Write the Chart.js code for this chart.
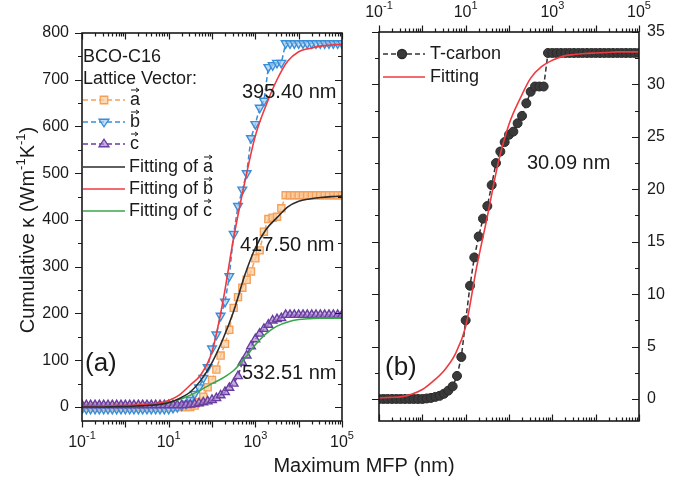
<!DOCTYPE html>
<html>
<head>
<meta charset="utf-8">
<script src="https://cdn.jsdelivr.net/npm/chart.js@4.4.1/dist/chart.umd.min.js"></script>
<style>
  html, body { margin: 0; padding: 0; background: #fff; }
  #wrap { position: relative; width: 696px; height: 485px; }
  canvas { position: absolute; left: 0; top: 0; }
</style>
</head>
<body>
<div id="wrap">
  <canvas id="chartA" width="696" height="485"></canvas>
  <canvas id="chartB" width="696" height="485"></canvas>
</div>
<script>
// ---- data ----
const mfp = [
  0.1, 0.126, 0.158, 0.2, 0.251, 0.316, 0.398, 0.501, 0.631, 0.794,
  1, 1.26, 1.58, 2, 2.51, 3.16, 3.98, 5.01, 6.31, 7.94,
  10, 12.6, 15.8, 20, 25.1, 31.6, 39.8, 50.1, 63.1, 79.4,
  100, 126, 158, 200, 251, 316, 398, 501, 631, 794,
  1000, 1260, 1580, 2000, 2510, 3160, 3980, 5010, 6310, 7940,
  10000, 12600, 15800, 20000, 25100, 31600, 39800, 50100, 63100, 79400,
  100000
];

// BCO-C16, lattice vector a
const kappaA = [
  0, 0, 0, 0, 0, 0, 0, 0, 0, 0,
  0, 0, 0, 0, 0, 0, 0, 0, 0, 0,
  0, 0, 0, 0, 0, 0, 3, 10, 22, 42,
  58, 80, 110, 135, 165, 212, 235, 255, 272, 290,
  318, 335, 375, 402, 405, 407, 425, 453, 453, 453,
  453, 453, 453, 453, 453, 453, 453, 453, 453, 453,
  453
];
// lattice vector b
const kappaB = [
  -4, -4, -4, -4, -4, -4, -4, -4, -4, -4,
  -4, -4, -4, -4, -4, -4, -4, -4, -4, -4,
  -4, -2, 0, 3, 7, 15, 28, 42, 62, 85,
  125, 155, 195, 225, 280, 370, 430, 465, 500, 575,
  605, 640, 655, 727, 731, 736, 736, 778, 778, 778,
  778, 778, 778, 778, 778, 778, 778, 778, 778, 778,
  778
];
// lattice vector c
const kappaC = [
  4, 4, 4, 4, 4, 4, 4, 4, 4, 4,
  4, 4, 4, 4, 4, 4, 4, 4, 4, 4,
  4, 4, 4, 4, 4, 5, 6, 8, 10, 12,
  15, 19, 25, 32, 41, 50, 66, 95, 110, 130,
  145, 157, 167, 176, 185, 188, 190, 197, 197, 197,
  197, 197, 197, 197, 197, 197, 197, 197, 197, 197,
  197
];
// T-carbon
const kappaT = [
  0, 0, 0, 0, 0, 0, 0, 0, 0, 0,
  0, 0.05, 0.1, 0.2, 0.3, 0.5, 0.8, 1.2, 2.2, 4.0,
  7.5, 10.8, 13.5, 15.5, 17.2, 18.4, 20.4, 22.5, 23.6, 24.5,
  25.2, 25.5, 26.3, 27.0, 28.2, 29.3, 29.8, 29.8, 29.8, 33.0,
  33.0, 33.0, 33.0, 33.0, 33.0, 33.0, 33.0, 33.0, 33.0, 33.0,
  33.0, 33.0, 33.0, 33.0, 33.0, 33.0, 33.0, 33.0, 33.0, 33.0,
  33.0
];

// fitting curves, sampled from the figure
const mfpFit = [
  0.1, 0.178, 0.316, 0.562, 1, 1.78, 3.16, 5.62, 10, 17.8, 31.6, 56.2,
  100, 178, 316, 562, 1000, 1780, 3160, 5620, 10000, 17800, 31600, 56200, 100000
];
const fitA = [0, 0, 0, 0.5, 1, 2, 3, 5, 9, 18, 32, 58, 95, 145, 205, 280, 340, 380, 405, 428, 440, 445, 448, 450, 451];
const fitB = [2, 2, 2, 3, 3, 4, 6, 8, 14, 26, 47, 70, 118, 225, 362, 478, 580, 646, 700, 740, 760, 767, 772, 774, 776];
const fitC = [0, 0, 1, 1, 2, 3, 5, 7, 10, 16, 25, 37, 50, 62, 78, 103, 133, 157, 173, 182, 187, 189, 190, 190, 190];
const fitT = [0.1, 0.15, 0.2, 0.45, 0.9, 1.7, 2.7, 4.2, 6.9, 12.5, 17.4, 22.5, 26.2, 28.6, 30.6, 31.7, 32.3, 32.7, 32.85, 32.95, 33.0, 33.05, 33.1, 33.1, 33.1];

// tick labels
const xLabelExps = [-1, 1, 3, 5];
const yTicksA = [0, 100, 200, 300, 400, 500, 600, 700, 800];
const yTicksB = [0, 5, 10, 15, 20, 25, 30, 35];

// ---- styling ----
const FONT = "'Liberation Sans', Arial, sans-serif";
const INK = '#1a1a1a';
const ORANGE = '#f5a05a', BLUE = '#3a8ed8', PURPLE = '#6a3ea0';
const BLACK_FIT = '#2b2b2b', RED_FIT = '#ee3a40', GREEN_FIT = '#3aa64a';
const DOT = '#3a3a3a';
const ORANGE_FILL = 'rgba(250,205,160,0.75)';
const BLUE_FILL = 'rgba(170,205,240,0.7)';
const PURPLE_FILL = 'rgba(170,140,210,0.7)';

const font = px => px + 'px ' + FONT;
const pts = (xs, ys) => xs.map((x, i) => ({ x: x, y: ys[i] }));

function fitLine(ys, color) {
  return {
    data: pts(mfpFit, ys), showLine: true, borderColor: color, borderWidth: 1.6,
    pointRadius: 0, cubicInterpolationMode: 'monotone'
  };
}
function dataLine(ys, color, style, rot, fill) {
  return {
    data: pts(mfp, ys), showLine: true, borderColor: color, borderWidth: 1.5,
    borderDash: [5, 3], pointStyle: style, pointRotation: rot, pointRadius: 5,
    pointBorderColor: color, pointBackgroundColor: fill, pointBorderWidth: 1.4
  };
}

function powLabel(ctx, exp, cx, baseY) {
  const sup = String(exp);
  ctx.font = font(16); const wb = ctx.measureText('10').width;
  ctx.font = font(11); const ws = ctx.measureText(sup).width;
  const x0 = cx - (wb + ws) / 2;
  ctx.textAlign = 'left'; ctx.textBaseline = 'alphabetic';
  ctx.font = font(16); ctx.fillText('10', x0, baseY);
  ctx.font = font(11); ctx.fillText(sup, x0 + wb, baseY - 8);
}

// text made of plain and superscript parts, centred on cx
function richText(ctx, parts, cx, baseY, size) {
  const supSize = Math.round(size * 0.65);
  let total = 0;
  parts.forEach(p => { ctx.font = font(p[1] ? supSize : size); total += ctx.measureText(p[0]).width; });
  let x = cx - total / 2;
  ctx.textAlign = 'left'; ctx.textBaseline = 'alphabetic';
  parts.forEach(p => {
    ctx.font = font(p[1] ? supSize : size);
    ctx.fillText(p[0], x, p[1] ? baseY - size * 0.45 : baseY);
    x += ctx.measureText(p[0]).width;
  });
}

// letter with a vector arrow over it
function vecLetter(ctx, ch, x, yMid) {
  ctx.textAlign = 'left'; ctx.textBaseline = 'middle';
  ctx.fillText(ch, x, yMid);
  const w = ctx.measureText(ch).width;
  const ya = yMid - 10, x1 = x + 1, x2 = x + w - 1;
  ctx.save();
  ctx.lineWidth = 1; ctx.strokeStyle = INK;
  ctx.beginPath();
  ctx.moveTo(x1, ya); ctx.lineTo(x2, ya);
  ctx.moveTo(x2 - 3, ya - 2); ctx.lineTo(x2, ya); ctx.lineTo(x2 - 3, ya + 2);
  ctx.stroke();
  ctx.restore();
  return w;
}

function marker(ctx, style, x, y, color, fill) {
  ctx.save();
  ctx.strokeStyle = color; ctx.fillStyle = fill; ctx.lineWidth = 1.3;
  ctx.beginPath();
  const r = 5;
  if (style === 'rect') {
    ctx.rect(x - r * 0.75, y - r * 0.75, r * 1.5, r * 1.5);
  } else if (style === 'down') {
    ctx.moveTo(x - r, y - r * 0.55); ctx.lineTo(x + r, y - r * 0.55); ctx.lineTo(x, y + r * 0.95); ctx.closePath();
  } else if (style === 'up') {
    ctx.moveTo(x - r, y + r * 0.55); ctx.lineTo(x + r, y + r * 0.55); ctx.lineTo(x, y - r * 0.95); ctx.closePath();
  } else {
    ctx.arc(x, y, 4.5, 0, Math.PI * 2);
  }
  ctx.fill(); ctx.stroke();
  ctx.restore();
}

function sampleLine(ctx, y, color, dashed) {
  ctx.save();
  ctx.strokeStyle = color; ctx.lineWidth = 1.5;
  if (dashed) ctx.setLineDash([5, 3]);
  ctx.beginPath(); ctx.moveTo(83, y); ctx.lineTo(125, y); ctx.stroke();
  ctx.restore();
}

// frame, ticks and tick labels drawn from the chart's own scales
function makeFrame(cfg) {
  return {
    id: 'frame' + cfg.name,
    afterDraw(chart) {
      const ctx = chart.ctx, a = chart.chartArea, xs = chart.scales.x, ys = chart.scales.y;
      ctx.save();
      ctx.strokeStyle = INK; ctx.fillStyle = INK; ctx.lineWidth = 1.2;
      ctx.beginPath();
      for (let e = -1; e <= 5; e++) {
        for (let m = 1; m <= 9; m++) {
          const v = m * Math.pow(10, e);
          if (v > xs.max * 1.0001) break;
          const px = Math.round(xs.getPixelForValue(v)) + 0.5;
          const len = m === 1 ? 6.5 : 3.5;
          [a.top, a.bottom].forEach(py => { ctx.moveTo(px, py); ctx.lineTo(px, py + cfg.xDir * len); });
        }
      }
      for (let v = 0; v <= ys.max + 1e-9; v += cfg.minor) {
        const py = Math.round(ys.getPixelForValue(v)) + 0.5;
        const major = Math.abs(v / cfg.major - Math.round(v / cfg.major)) < 1e-6;
        const len = major ? 7 : 4;
        [a.left, a.right].forEach(px => { ctx.moveTo(px, py); ctx.lineTo(px - len, py); });
      }
      ctx.stroke();
      ctx.lineWidth = 1.6;
      ctx.strokeRect(a.left, a.top, a.right - a.left, a.bottom - a.top);

      ctx.font = font(16); ctx.textBaseline = 'middle';
      cfg.yTicks.forEach(v => {
        const py = ys.getPixelForValue(v);
        if (cfg.yLabels === 'left') { ctx.textAlign = 'right'; ctx.fillText(String(v), a.left - 13, py); }
        else { ctx.textAlign = 'left'; ctx.fillText(String(v), a.right + 8, py); }
      });
      xLabelExps.forEach(e => {
        const px = xs.getPixelForValue(Math.pow(10, e));
        if (cfg.xLabels === 'bottom') powLabel(ctx, e, px, a.bottom + 26);
        else powLabel(ctx, e, px, a.top - 15);
      });
      cfg.extra(ctx, chart);
      ctx.restore();
    }
  };
}

function baseOptions(pad, yMin, yMax) {
  return {
    responsive: false, animation: false, events: [],
    layout: { padding: pad },
    plugins: { legend: { display: false }, tooltip: { enabled: false } },
    scales: {
      x: { type: 'logarithmic', min: 0.1, max: 100000, display: false },
      y: { type: 'linear', min: yMin, max: yMax, display: false }
    }
  };
}

// ---- panel (a) ----
new Chart(document.getElementById('chartA'), {
  type: 'scatter',
  data: {
    datasets: [
      fitLine(fitA, BLACK_FIT),
      fitLine(fitB, RED_FIT),
      fitLine(fitC, GREEN_FIT),
      dataLine(kappaC, PURPLE, 'triangle', 0, PURPLE_FILL),
      dataLine(kappaB, BLUE, 'triangle', 180, BLUE_FILL),
      dataLine(kappaA, ORANGE, 'rect', 0, ORANGE_FILL)
    ]
  },
  options: baseOptions({ left: 82, right: 354, top: 33, bottom: 64 }, -30, 800),
  plugins: [makeFrame({
    name: 'A', xDir: 1, minor: 50, major: 100, yTicks: yTicksA, yLabels: 'left', xLabels: 'bottom',
    extra(ctx) {
      ctx.fillStyle = INK;
      ctx.textAlign = 'left'; ctx.textBaseline = 'middle';
      ctx.font = font(18);
      ctx.fillText('BCO-C16', 83, 57);
      ctx.fillText('Lattice Vector:', 83, 79);
      const rows = [
        ['a', ORANGE, 'rect', ORANGE_FILL, 100],
        ['b', BLUE, 'down', BLUE_FILL, 122],
        ['c', PURPLE, 'up', PURPLE_FILL, 144]
      ];
      rows.forEach(r => {
        sampleLine(ctx, r[4], r[1], true);
        marker(ctx, r[2], 104, r[4], r[1], r[3]);
        ctx.font = font(18); ctx.fillStyle = INK;
        vecLetter(ctx, r[0], 130, r[4]);
      });
      const fits = [['a', BLACK_FIT, 167], ['b', RED_FIT, 189], ['c', GREEN_FIT, 211]];
      fits.forEach(f => {
        sampleLine(ctx, f[2], f[1], false);
        ctx.font = font(18); ctx.fillStyle = INK;
        ctx.textAlign = 'left'; ctx.textBaseline = 'middle';
        ctx.fillText('Fitting of ', 129, f[2]);
        const w = ctx.measureText('Fitting of ').width;
        vecLetter(ctx, f[0], 129 + w, f[2]);
      });

      ctx.font = font(20); ctx.textAlign = 'left'; ctx.textBaseline = 'middle';
      ctx.fillText('395.40 nm', 242, 92);
      ctx.fillText('417.50 nm', 240, 245);
      ctx.fillText('532.51 nm', 242, 373);
      ctx.font = font(26);
      ctx.fillText('(a)', 85, 364);

      // axis titles
      richText(ctx, [['Maximum MFP (nm)', 0]], 364, 472, 20);
      ctx.save();
      ctx.translate(27, 230);
      ctx.rotate(-Math.PI / 2);
      richText(ctx, [['Cumulative \u03ba (Wm', 0], ['-1', 1], ['K', 0], ['-1', 1], [')', 0]], 0, 7, 20);
      ctx.restore();
    }
  })]
});

// ---- panel (b) ----
new Chart(document.getElementById('chartB'), {
  type: 'scatter',
  data: {
    datasets: [
      {
        data: pts(mfpFit, fitT), showLine: true, borderColor: RED_FIT, borderWidth: 1.6,
        pointRadius: 0, cubicInterpolationMode: 'monotone'
      },
      {
        data: pts(mfp, kappaT), showLine: true, borderColor: '#333', borderWidth: 1.5,
        borderDash: [5, 3], pointStyle: 'circle', pointRadius: 4.5,
        pointBackgroundColor: DOT, pointBorderColor: '#2a2a2a', pointBorderWidth: 1
      }
    ]
  },
  options: baseOptions({ left: 379, right: 57, top: 32, bottom: 64 }, -2.1, 35),
  plugins: [makeFrame({
    name: 'B', xDir: -1, minor: 2.5, major: 5, yTicks: yTicksB, yLabels: 'right', xLabels: 'top',
    extra(ctx) {
      ctx.save();
      ctx.strokeStyle = '#333'; ctx.lineWidth = 1.5; ctx.setLineDash([5, 3]);
      ctx.beginPath(); ctx.moveTo(383, 54); ctx.lineTo(425, 54); ctx.stroke();
      ctx.restore();
      marker(ctx, 'circle', 402, 54, '#2a2a2a', DOT);
      ctx.save();
      ctx.strokeStyle = RED_FIT; ctx.lineWidth = 1.6;
      ctx.beginPath(); ctx.moveTo(383, 77); ctx.lineTo(425, 77); ctx.stroke();
      ctx.restore();
      ctx.fillStyle = INK; ctx.font = font(18);
      ctx.textAlign = 'left'; ctx.textBaseline = 'middle';
      ctx.fillText('T-carbon', 430, 54);
      ctx.fillText('Fitting', 430, 77);
      ctx.font = font(20);
      ctx.fillText('30.09 nm', 527, 163);
      ctx.font = font(26);
      ctx.fillText('(b)', 385, 368);
    }
  })]
});
</script>
</body>
</html>
